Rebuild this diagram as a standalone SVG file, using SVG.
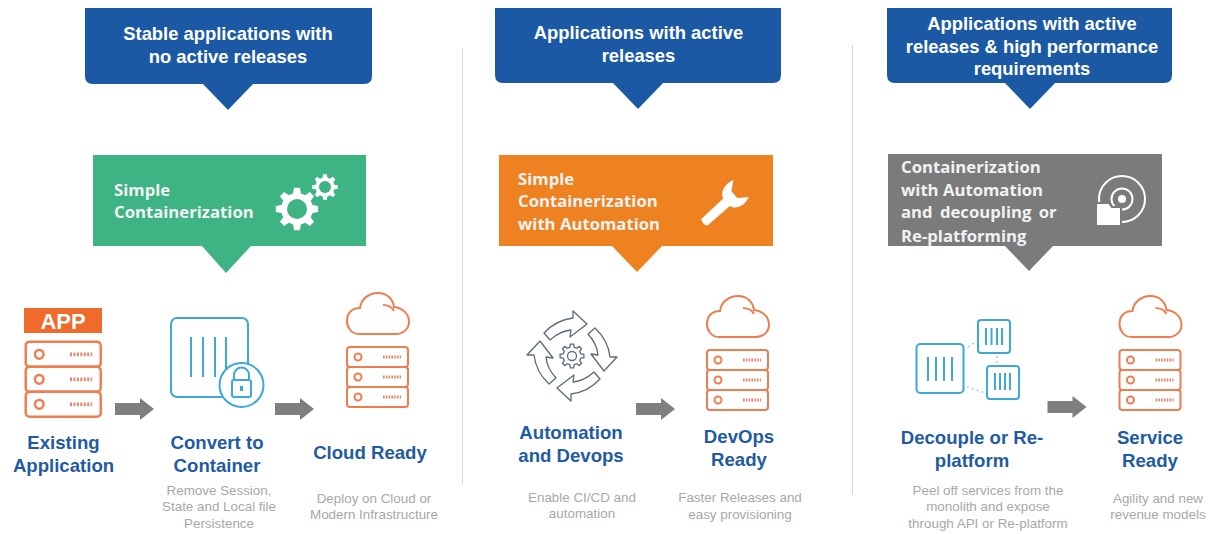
<svg xmlns="http://www.w3.org/2000/svg" xmlns:xlink="http://www.w3.org/1999/xlink" width="1211" height="534" viewBox="0 0 1211 534">
<style>
text{font-family:"Liberation Sans",Arial,sans-serif}
.ct{fill:#fff;font-size:18.400px;font-weight:700;text-anchor:middle}
.bt{font-family:"Open Sans","Liberation Sans",sans-serif;fill:#f2f2f2;font-size:16.700px;font-weight:700}
.lb{fill:#1f5ba3;font-size:18.600px;font-weight:700;text-anchor:middle}
.ds{fill:#a8a8a8;font-size:13.400px;text-anchor:middle}
.or{fill:#fff;stroke:#ee7d4f;stroke-width:2}
.bl{fill:#fff;stroke:#3fa9d6;stroke-width:2}
.blt{fill:none;stroke:#3fa9d6;stroke-width:2}
.dv{stroke:#d9d9d9;stroke-width:1;fill:none}
.ar{fill:#7f7f7f}
.cy{fill:#fff;stroke:#5f6b78;stroke-width:1.3;stroke-linejoin:round}
</style>
<defs>
<g id="server">
<rect class="or" x="1" y="1" width="61" height="20" rx="3"/>
<rect class="or" x="1" y="21" width="61" height="20" rx="3"/>
<rect class="or" x="1" y="41" width="61" height="20" rx="3"/>
<circle cx="12" cy="11" r="3.5" fill="none" stroke="#ee7d4f" stroke-width="2"/>
<circle cx="12" cy="31" r="3.5" fill="none" stroke="#ee7d4f" stroke-width="2"/>
<circle cx="12" cy="51" r="3.5" fill="none" stroke="#ee7d4f" stroke-width="2"/>
<path d="M37 11H55M37 31H55M37 51H55" stroke="#e5866a" stroke-width="3" stroke-dasharray="1.6 1.2" fill="none"/>
</g>
<path id="cloud" d="M13 42C5 42 1 35 1 29C1 21 6 16 14 16C15 7 23 1 32 1C41 1 47 7 48 15C57 16 63 22 63 30C63 37 57 42 50 42ZM37 13C41 13 46 15 48 19" fill="#fff" stroke="#ee7d4f" stroke-width="2"/>
<path id="gear" d="M8.73,-2.18L11.88,-1.67L11.88,1.67L8.73,2.18L7.71,4.63L9.58,7.22L7.22,9.58L4.63,7.71L2.18,8.73L1.67,11.88L-1.67,11.88L-2.18,8.73L-4.63,7.71L-7.22,9.58L-9.58,7.22L-7.71,4.63L-8.73,2.18L-11.88,1.67L-11.88,-1.67L-8.73,-2.18L-7.71,-4.63L-9.58,-7.22L-7.22,-9.58L-4.63,-7.71L-2.18,-8.73L-1.67,-11.88L1.67,-11.88L2.18,-8.73L4.63,-7.71L7.22,-9.58L9.58,-7.22L7.71,-4.63Z"/>
<path id="cyc" class="cy" d="M-28,-23Q-16,-36 1,-38L1,-45L15,-32L-2,-19L-1,-26Q-12,-25 -22,-16Z"/>
<path id="arrow" d="M0 5H25V0L39 11L25 22V17H0Z" class="ar"/>
</defs>

<g id="dividers">
<path class="dv" d="M462.500 48V484M852.500 45V495"/>
</g>

<g id="callout-stable">
<path d="M85 8H372V76Q372 84 364 84H253L228 110L203 84H93Q85 84 85 76Z" fill="#1b59a5"/>
<text class="ct" x="228" y="40">Stable applications with</text>
<text class="ct" x="228" y="63">no active releases</text>
</g>
<g id="callout-active">
<path d="M495 8H781V75Q781 83 773 83H663L638 109L613 83H503Q495 83 495 75Z" fill="#1b59a5"/>
<text class="ct" x="638.500" y="39">Applications with active</text>
<text class="ct" x="638.500" y="62">releases</text>
</g>
<g id="callout-performance">
<path d="M887 8H1172V75Q1172 83 1164 83H1055L1030 109L1005 83H895Q887 83 887 75Z" fill="#1b59a5"/>
<text class="ct" x="1032" y="30">Applications with active</text>
<text class="ct" x="1032" y="53">releases &amp; high performance</text>
<text class="ct" x="1032" y="75">requirements</text>
</g>

<g id="banner-simple">
<path d="M93 155H366V246H251L226 273L202 246H93Z" fill="#3eb384"/>
<text class="bt" x="114" y="196">Simple</text>
<text class="bt" x="114" y="218">Containerization</text>
<g fill="#fff">
<use xlink:href="#gear" href="#gear" transform="translate(297 209) scale(1.78)"/>
<use xlink:href="#gear" href="#gear" transform="translate(325 187) scale(1.08)"/>
</g>
<circle cx="297" cy="209" r="10" fill="#3eb384"/>
<circle cx="325" cy="187" r="6" fill="#3eb384"/>
</g>
<g id="banner-automation">
<path d="M499 155H773V246H662L637 272L612 246H499Z" fill="#ee8221"/>
<text class="bt" x="518" y="185">Simple</text>
<text class="bt" x="518" y="207">Containerization</text>
<text class="bt" x="518" y="230">with Automation</text>
<path transform="translate(708 219) rotate(-42)" d="M-5,-4.500L25,-5C27,-12 36,-15 45,-12L36,-5L36,4L45,11C36,15 27,12 25,5L-5,4.500Q-8,0 -5,-4.500Z" fill="#fff"/>
</g>
<g id="banner-replatform">
<path d="M888 154H1162V246H1053L1029 271L1005 246H888Z" fill="#7b7b7b"/>
<text class="bt" x="901" y="173">Containerization</text>
<text class="bt" x="901" y="196">with Automation</text>
<text class="bt" x="901" y="218" word-spacing="3">and decoupling or</text>
<text class="bt" x="901" y="242">Re-platforming</text>
<g fill="none" stroke="#fff" stroke-width="2">
<circle cx="1122" cy="199" r="23"/>
<circle cx="1122" cy="199" r="10.500"/>
</g>
<circle cx="1122" cy="199" r="4" fill="#fff"/>
<path d="M1096 203H1109L1112 207H1121V226H1096Z" fill="#fff" stroke="#7b7b7b" stroke-width="2"/>
</g>

<g id="existing-application">
<rect x="24" y="308" width="78" height="25" fill="#f06a2c"/>
<text x="63" y="329" fill="#fff" font-size="22" font-weight="700" text-anchor="middle">APP</text>
<use xlink:href="#server" href="#server" transform="translate(24.500 340.500) scale(1.23 1.25)"/>
<text class="lb" x="63.500" y="449">Existing</text>
<text class="lb" x="63.500" y="472">Application</text>
</g>
<g id="convert-to-container">
<rect class="bl" x="171" y="318" width="77" height="79" rx="6"/>
<path class="blt" d="M191 337V377M203 337V377M215 337V377M226 337V377"/>
<circle class="bl" cx="241.500" cy="385" r="22"/>
<path class="blt" d="M234 380V375A7.500 7.500 0 0 1 249 375V380"/>
<rect class="bl" x="232" y="380" width="19" height="17" rx="2"/>
<path d="M241.500 386V391" stroke="#3fa9d6" stroke-width="3"/>
<text class="lb" x="217" y="449">Convert to</text>
<text class="lb" x="217" y="472">Container</text>
<text class="ds" x="219" y="495">Remove Session,</text>
<text class="ds" x="219" y="511">State and Local file</text>
<text class="ds" x="219" y="528">Persistence</text>
</g>
<g id="cloud-ready">
<use xlink:href="#cloud" href="#cloud" transform="translate(346 292)"/>
<use xlink:href="#server" href="#server" transform="translate(346 346)"/>
<text class="lb" x="370" y="459">Cloud Ready</text>
<text class="ds" x="374" y="503">Deploy on Cloud or</text>
<text class="ds" x="374" y="519">Modern Infrastructure</text>
</g>
<g id="automation-devops">
<g transform="translate(572 356)">
<use xlink:href="#cyc" href="#cyc"/>
<use xlink:href="#cyc" href="#cyc" transform="rotate(90)"/>
<use xlink:href="#cyc" href="#cyc" transform="rotate(180)"/>
<use xlink:href="#cyc" href="#cyc" transform="rotate(270)"/>
<use xlink:href="#gear" href="#gear" fill="#fff" stroke="#5f6b78" stroke-width="1.300"/>
<circle r="4.500" fill="#fff" stroke="#5f6b78" stroke-width="1.300"/>
</g>
<text class="lb" x="571" y="439">Automation</text>
<text class="lb" x="571" y="462">and Devops</text>
<text class="ds" x="582" y="502">Enable CI/CD and</text>
<text class="ds" x="582" y="518">automation</text>
</g>
<g id="devops-ready">
<use xlink:href="#cloud" href="#cloud" transform="translate(706 295)"/>
<use xlink:href="#server" href="#server" transform="translate(706 349)"/>
<text class="lb" x="739" y="443">DevOps</text>
<text class="lb" x="739" y="466">Ready</text>
<text class="ds" x="740" y="502">Faster Releases and</text>
<text class="ds" x="740" y="519">easy provisioning</text>
</g>
<g id="decouple-replatform">
<rect class="bl" x="916.500" y="344" width="47" height="49" rx="4" stroke-width="1.600"/>
<path class="blt" d="M928 357V381M936 357V381M944 357V381M952 357V381"/>
<rect class="bl" x="978" y="320" width="32" height="33" rx="3"/>
<path class="blt" d="M986 328V345M991.500 328V345M997 328V345M1002 328V345"/>
<rect class="bl" x="987" y="366" width="32" height="33" rx="3"/>
<path class="blt" d="M995 373V390M1000 373V390M1005 373V390M1010 373V390"/>
<path d="M968 347L977 341M967 387L985 393M997 356V364" stroke="#9fd0e6" stroke-width="1.500" stroke-dasharray="2 3" fill="none"/>
<text class="lb" x="972" y="444">Decouple or Re-</text>
<text class="lb" x="972" y="467">platform</text>
<text class="ds" x="988" y="495">Peel off services from the</text>
<text class="ds" x="988" y="511">monolith and expose</text>
<text class="ds" x="988" y="528">through API or Re-platform</text>
</g>
<g id="service-ready">
<use xlink:href="#cloud" href="#cloud" transform="translate(1118.500 295)"/>
<use xlink:href="#server" href="#server" transform="translate(1118.500 349)"/>
<text class="lb" x="1150" y="444">Service</text>
<text class="lb" x="1150" y="467">Ready</text>
<text class="ds" x="1158" y="503">Agility and new</text>
<text class="ds" x="1158" y="519">revenue models</text>
</g>

<g id="connectors">
<use xlink:href="#arrow" href="#arrow" transform="translate(115 398)"/>
<use xlink:href="#arrow" href="#arrow" transform="translate(275 398)"/>
<use xlink:href="#arrow" href="#arrow" transform="translate(636 398)"/>
<use xlink:href="#arrow" href="#arrow" transform="translate(1047.500 396)"/>
</g>
</svg>
